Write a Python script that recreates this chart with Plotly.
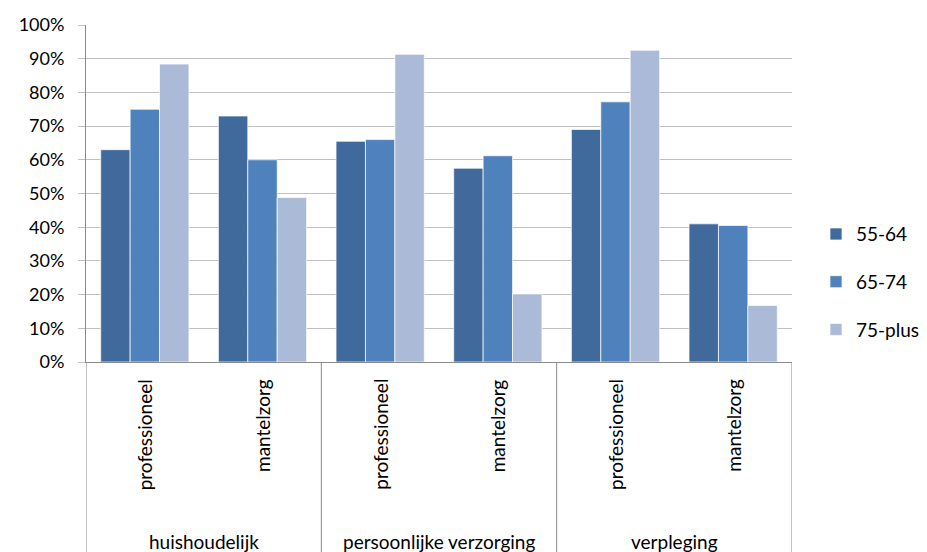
import plotly.graph_objects as go

# Care type groups and sub-categories
groups = ["huishoudelijk", "persoonlijke verzorging", "verpleging"]
kinds = ["professioneel", "mantelzorg"]
categories = [f"{g} | {k}" for g in groups for k in kinds]

# Share of respondents per age group (fractions)
series_names = ["55-64", "65-74", "75-plus"]
v_55_64 = [0.63, 0.73, 0.655, 0.575, 0.69, 0.41]
v_65_74 = [0.75, 0.60, 0.66, 0.612, 0.772, 0.405]
v_75_plus = [0.884, 0.488, 0.913, 0.202, 0.925, 0.168]
series_values = [v_55_64, v_65_74, v_75_plus]
colors = ["#416A9C", "#4F81BD", "#AABAD7"]

FONT = "Lato"
AXIS_GRAY = "#8A8A8A"
GRID_GRAY = "#C0C0C0"

fig = go.Figure()
for name, vals, col in zip(series_names, series_values, colors):
    fig.add_trace(go.Bar(
        x=categories, y=vals, name=name, legendgroup=name,
        marker=dict(color=col, line=dict(color="rgba(255,255,255,0.7)", width=1)),
    ))

# Inner category labels (rotated) under each bar cluster
annotations = []
for c, k in zip(categories, [k for g in groups for k in kinds]):
    annotations.append(dict(
        x=c, xref="x", y=0, yref="paper", yshift=-15,
        text=k, textangle=-90, showarrow=False,
        xanchor="center", yanchor="top",
        font=dict(family=FONT, size=19, color="#000000"),
    ))

# Group labels centred below each pair
for gi, g in enumerate(groups):
    annotations.append(dict(
        x=gi * 2 + 0.5, xref="x", y=0, yref="paper", yshift=-179,
        text=g, showarrow=False, xanchor="center", yanchor="middle",
        font=dict(family=FONT, size=19, color="#000000"),
    ))

# Divider lines of the category area
shapes = []
for gi in range(len(groups) + 1):
    shapes.append(dict(
        type="line", xref="x", yref="paper",
        x0=gi * 2 - 0.5, x1=gi * 2 - 0.5, y0=0, y1=-0.57,
        line=dict(color=AXIS_GRAY, width=1),
    ))

fig.update_layout(
    width=927, height=552,
    margin=dict(l=86, r=135, t=25, b=190, autoexpand=False),
    paper_bgcolor="white", plot_bgcolor="white",
    barmode="group", bargap=0.25, bargroupgap=0,
    font=dict(family=FONT, size=19, color="#000000"),
    annotations=annotations, shapes=shapes,
    legend=dict(
        x=1.034, xanchor="left", y=0.237, yanchor="middle",
        font=dict(family=FONT, size=19, color="#000000"),
        tracegroupgap=20, bgcolor="rgba(0,0,0,0)",
    ),
    showlegend=True,
)
fig.update_xaxes(
    range=[-0.5, 5.5], showticklabels=False, ticks="",
    showline=True, linecolor=AXIS_GRAY, linewidth=1, showgrid=False,
    zeroline=False,
)
fig.update_yaxes(
    range=[0, 1], dtick=0.1, tickformat=".0%",
    showgrid=True, gridcolor=GRID_GRAY, gridwidth=1,
    showline=True, linecolor=AXIS_GRAY, linewidth=1,
    ticks="outside", ticklen=7, tickcolor=GRID_GRAY,
    ticklabelstandoff=10, zeroline=False,
    tickfont=dict(family=FONT, size=18, color="#000000"),
)

fig.write_html("out.html")
